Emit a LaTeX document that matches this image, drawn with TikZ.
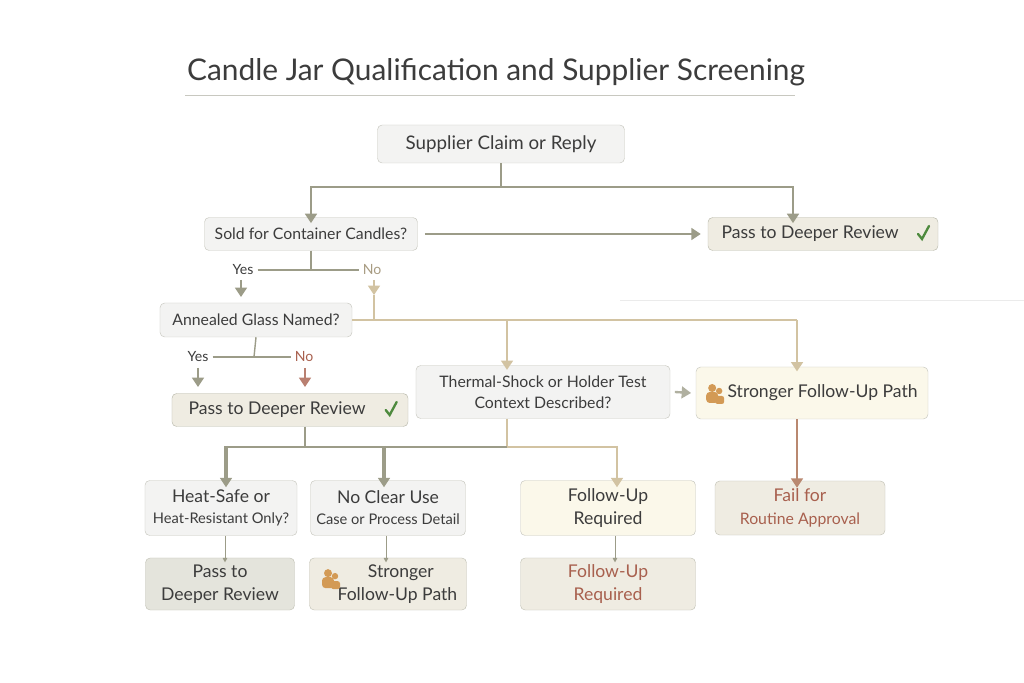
\documentclass[tikz,border=0pt]{standalone}
\usepackage{fontspec}
\setmainfont{Lato}
\usetikzlibrary{arrows.meta}
\definecolor{olive}{HTML}{9C9C88}
\definecolor{tan}{HTML}{D2C3A2}
\definecolor{rust}{HTML}{A8604E}
\definecolor{boxline}{HTML}{C8C8C0}
\definecolor{greyfill}{HTML}{F3F3F2}
\definecolor{beige}{HTML}{EFECE2}
\definecolor{cream}{HTML}{FBF8EA}
\definecolor{darkfill}{HTML}{E4E4DC}
\definecolor{ink}{HTML}{3C3C3C}
\definecolor{okgreen}{HTML}{4E8A3E}
\definecolor{person}{HTML}{D39A55}
\tikzset{
  box/.style={draw=boxline, fill=greyfill, rounded corners=4pt, text=ink,
    align=center, font=\fontsize{15}{18}\selectfont, inner sep=0pt},
  wire/.style={olive, line width=2pt},
  tanwire/.style={tan, line width=2pt},
  arr/.style={-{Triangle[length=8pt,width=10pt]}},
  small arr/.style={olive, line width=0.8pt, -{Triangle[length=4pt,width=4pt]}},
  pics/tick/.style={code={\draw[okgreen, line width=2pt, line cap=round]
    (-5,0) -- (-1,5) -- (6,-8);}},
  pics/people/.style={code={\fill[person] (0,-5) circle (4);
    \fill[person, rounded corners=3pt] (-6,10) rectangle (6,-1);
    \fill[person] (7,-2) circle (3.2);
    \fill[person, rounded corners=2pt] (3,11) rectangle (12,3);}},
}
\begin{document}
\begin{tikzpicture}[x=0.03cm, y=-0.03cm]
\useasboundingbox (0,0) rectangle (1024,683);
\fill[white] (0,0) rectangle (1024,683);
% title
\node[anchor=west, text=ink, font=\fontsize{25.5}{30}\selectfont] (title) at (183,72) {Candle Jar Qualification and Supplier Screening};
\draw[boxline, line width=0.8pt] (185,95) -- (795,95);
\draw[black!8, line width=0.6pt] (620,300) -- (1024,300);
% boxes
\node[box, minimum width=7.41cm, minimum height=1.14cm, font=\fontsize{16}{18}\selectfont] (claim) at (501,144) {Supplier Claim or Reply};
\node[box, minimum width=6.39cm, minimum height=0.99cm, font=\fontsize{13.5}{16}\selectfont] (sold) at (311,234) {Sold for Container Candles?};
\node[box, fill=beige, draw=olive!70, minimum width=6.9cm, minimum height=0.99cm] (passA) at (823,234) {Pass to Deeper Review\hspace{22pt}};
\node[box, minimum width=5.76cm, minimum height=1.02cm, font=\fontsize{13.5}{16}\selectfont] (anneal) at (256,320) {Annealed Glass Named?};
\node[box, fill=beige, draw=olive!70, minimum width=7.08cm, minimum height=0.99cm] (passB) at (290,410) {Pass to Deeper Review\hspace{22pt}};
\node[box, minimum width=7.62cm, minimum height=1.59cm, font=\fontsize{13.5}{18}\selectfont] (thermal) at (543,392) {Thermal-Shock or Holder Test\\Context Described?};
\node[box, fill=cream, minimum width=6.96cm, minimum height=1.56cm] (strongA) at (812,393) {\hspace{18pt}Stronger Follow-Up Path};
\node[box, minimum width=4.56cm, minimum height=1.65cm] (heat) at (221,508) {Heat-Safe or\\{\fontsize{12.5}{18}\selectfont Heat-Resistant Only?}};
\node[box, minimum width=4.65cm, minimum height=1.65cm] (noclear) at (388,508) {No Clear Use\\{\fontsize{12.5}{18}\selectfont Case or Process Detail}};
\node[box, fill=cream, minimum width=5.25cm, minimum height=1.65cm, font=\fontsize{15}{20}\selectfont] (fuA) at (608,508) {Follow-Up\\Required};
\node[box, fill=beige, draw=olive!60, text=rust, minimum width=5.1cm, minimum height=1.62cm, font=\fontsize{15}{20}\selectfont] (fail) at (800,508) {Fail for\\{\fontsize{13.5}{18}\selectfont Routine Approval}};
\node[box, fill=darkfill, draw=olive!60, minimum width=4.47cm, minimum height=1.56cm, font=\fontsize{15}{20}\selectfont] (passC) at (220,584) {Pass to\\Deeper Review};
\node[box, fill=beige, draw=olive!60, minimum width=4.71cm, minimum height=1.56cm, font=\fontsize{15}{20}\selectfont] (strongB) at (388,584) {\hspace{22pt}Stronger\\\hspace{16pt}Follow-Up Path};
\node[box, fill=beige, draw=olive!60, text=rust, minimum width=5.25cm, minimum height=1.56cm, font=\fontsize{15}{20}\selectfont] (fuB) at (608,584) {Follow-Up\\Required};
% icons
\pic at ([xshift=-13]passA.east) {tick};
\pic at ([xshift=-15]passB.east) {tick};
\pic at ([xshift=14]strongA.west) {people};
\pic at ([xshift=16,yshift=5]strongB.west) {people};
% claim split
\coordinate (c1) at (501,187);
\draw[wire] (claim.south) -- (c1);
\draw[wire, arr] (c1) -| ([yshift=-5]sold.north);
\draw[wire, arr] (c1) -| ([yshift=-5]passA.north -| 793,0);
\draw[wire, arr] ([xshift=6]sold.east) -- ([xshift=-6]passA.west);
% sold yes/no
\node[text=ink, font=\fontsize{12}{14}\selectfont] (yesA) at (243,270) {Yes};
\node[text=tan!80!black, font=\fontsize{12}{14}\selectfont] (noA) at (372,270) {No};
\draw[olive, line width=1.2pt] (sold.south) -- (311,270);
\draw[olive, line width=1.2pt] (yesA.east) -- (noA.west);
\draw[olive, line width=2pt, arr] (241,280) -- (241,297);
\draw[tanwire, arr] (374,280) -- (374,295);
% no branch
\coordinate (n1) at (374,320);
\draw[tanwire] (374,295) -- (n1);
\draw[tanwire] (anneal.east) -- (797,320);
\draw[tanwire, arr] (507,320) -- ([yshift=-4]thermal.north -| 507,0);
\draw[tanwire, arr] (797,320) -- ([yshift=-4]strongA.north -| 797,0);
\draw[olive!80, line width=2pt, arr] ([xshift=4]thermal.east) -- ([xshift=-4]strongA.west);
% anneal yes/no
\node[text=ink, font=\fontsize{12}{14}\selectfont] (yesB) at (198,357) {Yes};
\node[text=rust, font=\fontsize{12}{14}\selectfont] (noB) at (304,357) {No};
\draw[olive, line width=1.2pt] (anneal.south) -- (254,357);
\draw[olive, line width=1.2pt] (yesB.east) -- (noB.west);
\draw[olive, line width=2pt, arr] (198,368) -- (198,387);
\draw[rust!80, line width=2pt, arr] (305,368) -- (305,387);
% lower split
\coordinate (l1) at (305,447);
\coordinate (l2) at (507,447);
\draw[wire] (passB.south -| 305,0) -- (l1);
\draw[tanwire] (thermal.south -| 507,0) -- (l2);
\draw[wire] (226,447) -- (l2);
\draw[tanwire] (l2) -- (617,447);
\draw[wire, line width=3pt, arr] (226,446) -- ([yshift=-6]heat.north -| 226,0);
\draw[wire, line width=3pt, arr] (384,446) -- ([yshift=-6]noclear.north -| 384,0);
\draw[tanwire, arr] (617,446) -- ([yshift=-6]fuA.north -| 617,0);
\draw[line width=2.5pt, color=rust!60!tan, arr] (strongA.south -| 797,0) -- ([yshift=-6]fail.north -| 797,0);
% small arrows
\draw[small arr] (heat.south -| 225,0) -- ([yshift=-4]passC.north -| 225,0);
\draw[small arr] (noclear.south -| 386,0) -- ([yshift=-4]strongB.north -| 386,0);
\draw[small arr] (fuA.south -| 615,0) -- ([yshift=-4]fuB.north -| 615,0);
\end{tikzpicture}
\end{document}
